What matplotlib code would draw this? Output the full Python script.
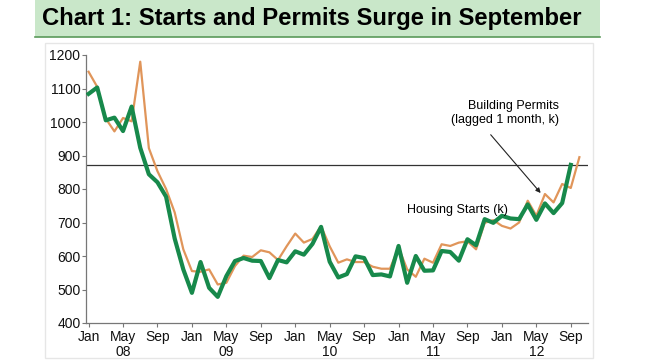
"""
Chart 1: housing starts vs. building permits (lagged one month), 2008-2012.
"""

import matplotlib
matplotlib.use("Agg")
import matplotlib.pyplot as plt
from matplotlib.patches import Rectangle
import numpy as np

# =============================================================================
# Data (thousands, SAAR), monthly from Jan 2008
# =============================================================================
STARTS = [
    1084, 1103, 1005, 1013, 973, 1046, 923, 844, 820, 777, 652, 560,   # 2008
    490, 582, 505, 478, 540, 585, 594, 586, 585, 534, 588, 581,        # 2009
    614, 604, 636, 687, 583, 536, 546, 599, 594, 543, 545, 539,        # 2010
    630, 520, 600, 556, 557, 615, 612, 586, 650, 632, 710, 699,        # 2011
    720, 712, 710, 754, 708, 757, 728, 758, 872,                       # 2012
]
PERMITS_LAGGED = [
    1150, 1105, 1010, 972, 1012, 1002, 1180, 922, 853, 800, 730, 620,  # 2008
    555, 553, 560, 515, 520, 570, 601, 597, 617, 611, 588, 629,        # 2009
    667, 640, 651, 689, 629, 580, 590, 582, 582, 568, 562, 562,        # 2010
    625, 560, 538, 592, 580, 635, 630, 640, 644, 620, 699, 707,        # 2011
    690, 682, 700, 765, 720, 785, 760, 815, 803, 895,                  # 2012
]
REF_LEVEL = 872

MONTH_LABELS = ["Jan", "May", "Sep"] * 5
YEAR_LABELS = ["08", "09", "10", "11", "12"]

TITLE = "Chart 1: Starts and Permits Surge in September"

GREEN = "#17894b"
ORANGE = "#e0955a"
BANNER = "#c9e7c9"

# =============================================================================
# Figure
# =============================================================================
plt.rcParams["font.family"] = ["Liberation Sans", "DejaVu Sans"]

fig = plt.figure(figsize=(6.45, 3.63), dpi=100)

# title banner
fig.patches.append(Rectangle((35 / 645, 1 - 37 / 363), 565 / 645, 37 / 363,
                             transform=fig.transFigure, facecolor=BANNER,
                             edgecolor="none", zorder=0))
fig.lines.append(plt.Line2D([35 / 645, 600 / 645], [1 - 37 / 363] * 2,
                            transform=fig.transFigure, color="#5a9a5a", lw=1.2))
fig.text(42 / 645, 1 - 18 / 363, TITLE, fontsize=17.2, fontweight="bold",
         ha="left", va="center")

# faint frame round the chart area
fig.patches.append(Rectangle((45 / 645, 1 - 358 / 363), 548 / 645, 315 / 363,
                             transform=fig.transFigure, facecolor="none",
                             edgecolor="#e6e6e6", lw=1, zorder=0))

ax = fig.add_axes([86 / 645, 1 - 323 / 363, 502 / 645, 268 / 363])

x_starts = np.arange(len(STARTS))
x_permits = np.arange(len(PERMITS_LAGGED))

ax.plot(x_permits, PERMITS_LAGGED, color=ORANGE, lw=1.6, zorder=2)
ax.plot(x_starts, STARTS, color=GREEN, lw=3.0, zorder=3)
ax.axhline(REF_LEVEL, color="#333333", lw=0.9, zorder=1)

ax.set_xlim(-0.3, 58)
ax.set_ylim(400, 1200)
ax.set_yticks(range(400, 1201, 100))

ticks = np.arange(0, 57, 4)
labels = []
for i, m in enumerate(MONTH_LABELS):
    if m == "May":
        labels.append(f"{m}\n{YEAR_LABELS[i // 3]}")
    else:
        labels.append(m)
ax.set_xticks(ticks)
ax.set_xticklabels(labels, va="top", linespacing=1.1)

for side in ("top", "right"):
    ax.spines[side].set_visible(False)
for side in ("left", "bottom"):
    ax.spines[side].set_color("#777777")
    ax.spines[side].set_linewidth(0.9)

ax.tick_params(axis="both", labelsize=10, colors="#777777", labelcolor="#111111",
               length=3, width=0.8)
ax.tick_params(axis="x", pad=2)
ax.tick_params(axis="y", pad=1)

# annotations
ax.text(37.0, 736, "Housing Starts (k)", fontsize=9, ha="left", va="center")
ax.text(54.6, 1027, "Building Permits\n(lagged 1 month, k)", fontsize=9,
        ha="right", va="center", linespacing=1.25)
ax.annotate("", xy=(52.5, 788), xytext=(46.7, 962),
            arrowprops=dict(arrowstyle="-|>", color="#222222", lw=0.8,
                            mutation_scale=7, shrinkA=0, shrinkB=0))

plt.savefig("out.png", dpi=100)
plt.close()
